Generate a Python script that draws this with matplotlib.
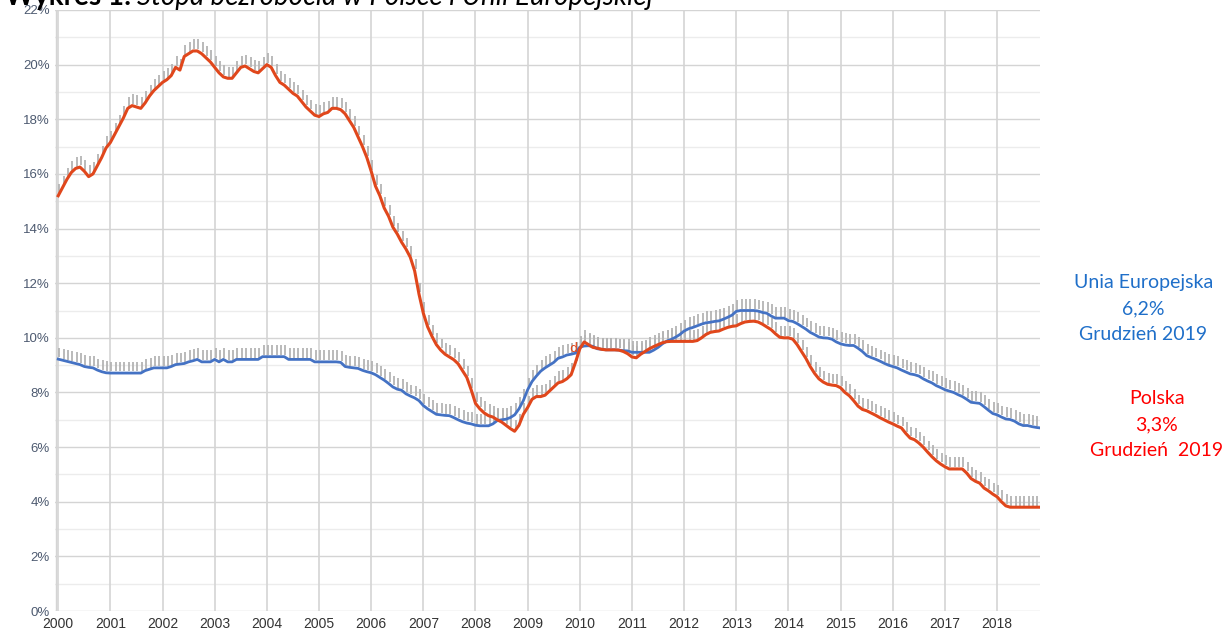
import matplotlib
matplotlib.use("Agg")
import matplotlib.pyplot as plt
import numpy as np

# monthly unemployment rate, Jan 2000 - Nov 2018
polska = [
    15.2, 15.5, 15.8, 16.05, 16.2, 16.25, 16.1, 15.9, 16.0, 16.3, 16.6, 16.95,      # 2000
    17.15, 17.45, 17.75, 18.05, 18.4, 18.5, 18.45, 18.4, 18.6, 18.85, 19.05, 19.2,  # 2001
    19.35, 19.45, 19.6, 19.9, 19.8, 20.3, 20.4, 20.5, 20.5, 20.4, 20.25, 20.1,      # 2002
    19.9, 19.7, 19.55, 19.5, 19.5, 19.7, 19.9, 19.95, 19.85, 19.75, 19.7, 19.85,    # 2003
    20.0, 19.9, 19.6, 19.35, 19.25, 19.1, 18.95, 18.85, 18.65, 18.45, 18.3, 18.15,  # 2004
    18.1, 18.2, 18.25, 18.4, 18.4, 18.35, 18.2, 17.95, 17.7, 17.35, 17.0, 16.6,     # 2005
    16.1, 15.55, 15.2, 14.75, 14.45, 14.05, 13.8, 13.5, 13.25, 12.95, 12.45, 11.6,  # 2006
    10.9, 10.4, 10.05, 9.75, 9.55, 9.4, 9.3, 9.2, 9.05, 8.8, 8.55, 8.1,             # 2007
    7.6, 7.4, 7.25, 7.15, 7.1, 7.0, 6.92, 6.8, 6.68, 6.58, 6.8, 7.2,                # 2008
    7.45, 7.75, 7.85, 7.85, 7.9, 8.05, 8.2, 8.35, 8.4, 8.5, 8.65, 9.1,              # 2009
    9.6, 9.85, 9.75, 9.65, 9.62, 9.58, 9.56, 9.56, 9.56, 9.55, 9.5, 9.42,           # 2010
    9.3, 9.27, 9.4, 9.5, 9.6, 9.68, 9.75, 9.82, 9.86, 9.87, 9.87, 9.87,             # 2011
    9.87, 9.87, 9.87, 9.9, 10.0, 10.12, 10.2, 10.23, 10.25, 10.32, 10.38, 10.42,    # 2012
    10.44, 10.52, 10.58, 10.6, 10.61, 10.58, 10.5, 10.4, 10.3, 10.15, 10.02, 10.0,  # 2013
    10.0, 9.95, 9.75, 9.5, 9.25, 8.95, 8.7, 8.5, 8.38, 8.3, 8.27, 8.25,             # 2014
    8.17, 8.0, 7.88, 7.7, 7.5, 7.38, 7.33, 7.25, 7.17, 7.08, 7.0, 6.92,             # 2015
    6.85, 6.77, 6.7, 6.5, 6.33, 6.27, 6.15, 6.0, 5.82, 5.65, 5.5, 5.38,             # 2016
    5.28, 5.2, 5.2, 5.2, 5.2, 5.05, 4.85, 4.75, 4.68, 4.5, 4.4, 4.28,               # 2017
    4.18, 4.0, 3.85, 3.8, 3.8, 3.8, 3.8, 3.8, 3.8, 3.8, 3.8,                        # 2018
]
unia = [
    9.22, 9.18, 9.14, 9.1, 9.06, 9.02, 8.95, 8.92, 8.9, 8.82, 8.76, 8.72,           # 2000
    8.71, 8.71, 8.71, 8.71, 8.71, 8.71, 8.71, 8.71, 8.8, 8.85, 8.9, 8.9,            # 2001
    8.9, 8.9, 8.95, 9.02, 9.04, 9.06, 9.12, 9.16, 9.21, 9.12, 9.12, 9.12,           # 2002
    9.21, 9.12, 9.21, 9.12, 9.12, 9.21, 9.21, 9.21, 9.21, 9.21, 9.21, 9.31,         # 2003
    9.31, 9.31, 9.31, 9.31, 9.31, 9.21, 9.21, 9.21, 9.21, 9.21, 9.21, 9.12,         # 2004
    9.12, 9.12, 9.12, 9.12, 9.12, 9.1, 8.95, 8.92, 8.9, 8.88, 8.81, 8.76,           # 2005
    8.72, 8.65, 8.55, 8.45, 8.33, 8.2, 8.12, 8.08, 7.95, 7.87, 7.8, 7.7,            # 2006
    7.52, 7.4, 7.3, 7.2, 7.18, 7.16, 7.15, 7.08, 7.0, 6.93, 6.88, 6.85,             # 2007
    6.8, 6.78, 6.78, 6.78, 6.85, 6.97, 7.0, 7.02, 7.08, 7.18, 7.4, 7.7,             # 2008
    8.1, 8.4, 8.6, 8.78, 8.9, 9.0, 9.1, 9.25, 9.3, 9.37, 9.4, 9.44,                 # 2009
    9.66, 9.7, 9.71, 9.69, 9.6, 9.58, 9.56, 9.56, 9.56, 9.55, 9.53, 9.52,           # 2010
    9.47, 9.47, 9.47, 9.47, 9.47, 9.55, 9.65, 9.78, 9.88, 9.94, 10.02, 10.12,       # 2011
    10.25, 10.33, 10.38, 10.44, 10.5, 10.55, 10.57, 10.6, 10.62, 10.68, 10.75, 10.83,  # 2012
    10.97, 11.0, 11.0, 11.0, 11.0, 10.98, 10.93, 10.9, 10.8, 10.72, 10.72, 10.72,   # 2013
    10.63, 10.6, 10.52, 10.42, 10.32, 10.2, 10.12, 10.03, 10.0, 9.99, 9.95, 9.85,   # 2014
    9.78, 9.74, 9.72, 9.72, 9.62, 9.5, 9.35, 9.28, 9.22, 9.15, 9.07, 9.0,           # 2015
    8.95, 8.9, 8.82, 8.75, 8.68, 8.65, 8.6, 8.5, 8.42, 8.35, 8.25, 8.18,            # 2016
    8.1, 8.05, 8.0, 7.92, 7.85, 7.75, 7.64, 7.62, 7.6, 7.48, 7.35, 7.23,            # 2017
    7.18, 7.1, 7.03, 7.01, 6.95, 6.85, 6.79, 6.79, 6.75, 6.72, 6.7,                 # 2018
]
years = list(range(2000, 2019))
yticks = list(range(0, 23, 2))

pl = np.array(polska)
eu = np.array(unia)
x = 2000 + np.arange(len(pl)) / 12.0

fig = plt.figure(figsize=(12.24, 6.32), dpi=100)
ax = fig.add_axes([0.045, 0.0332, 0.805, 0.951])

# grid: 1% minor, 2% major, yearly verticals
for v in range(0, 23):
    ax.axhline(v, color='#d4d4d4' if v % 2 == 0 else '#ececec', lw=1.0, zorder=0)
for yr in years:
    ax.axvline(yr, color='#d4d4d4', lw=1.2, zorder=0)
ax.axvline(1999.96, color='#d4d4d4', lw=1.0, zorder=0)

# grey "shadow" ticks above each monthly value
ax.vlines(x + 0.02, eu + 0.06, eu + 0.42, color='#b4b4b4', lw=1.3, zorder=1)
ax.vlines(x + 0.02, pl + 0.06, pl + 0.42, color='#b4b4b4', lw=1.3, zorder=1)

ax.plot(x, eu, color='#4472c4', lw=2.0, zorder=3, solid_joinstyle='round')
ax.plot(x, pl, color='#e0471c', lw=2.2, zorder=4, solid_joinstyle='round')
ax.text(2009.88, 9.6, 'd', color='#e0471c', fontsize=9, ha='center', va='center', zorder=5)

ax.set_xlim(1999.94, 2018.83)
ax.set_ylim(0, 22)
ax.set_xticks(years)
ax.set_xticklabels([str(y) for y in years], fontsize=10, color='#333333',
                   family='Liberation Sans')
ax.set_yticks(yticks)
ax.set_yticklabels([f'{v}%' for v in yticks], fontsize=9.5, color='#4d5a70',
                   family='Liberation Sans')
ax.tick_params(length=0, pad=4)
for s in ax.spines.values():
    s.set_visible(False)

# right-hand annotations
eu_lbl = ['Unia Europejska', '6,2%', 'Grudzień 2019']
pl_lbl = ['Polska', '3,3%', 'Grudzień  2019']
for txt, yy in zip(eu_lbl, [283, 309, 334]):
    fig.text(0.934, 1 - yy / 632, txt, color='#1f6fc9', fontsize=14,
             ha='center', va='center', family='Lato')
for txt, yy in zip(pl_lbl, [399, 425, 451]):
    fig.text(0.945, 1 - yy / 632, txt, color='#ff0000', fontsize=14,
             ha='center', va='center', family='Lato')

# title, cut off by the top edge as in the source
fig.text(5 / 1224, 1 - 5 / 632, 'Wykres 1:', fontsize=20, fontweight='bold',
         family='Lato', va='baseline')
fig.text(137 / 1224, 1 - 5 / 632, 'Stopa bezrobocia w Polsce i Unii Europejskiej',
         fontsize=20, style='italic', family='Lato', va='baseline')

fig.savefig('out.png', dpi=100)
